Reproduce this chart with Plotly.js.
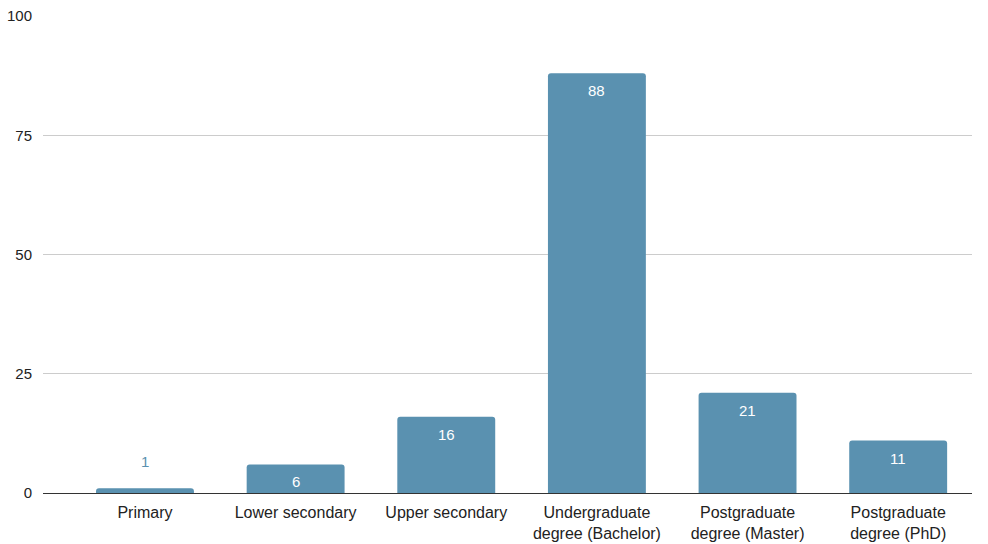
<!DOCTYPE html>
<html>
<head>
<meta charset="utf-8">
<script src="https://cdn.plot.ly/plotly-3.0.1.min.js"></script>
<style>html,body{margin:0;padding:0;background:#fff;}#chart{width:988px;height:544px;}</style>
</head>
<body>
<div id="chart"></div>
<script>
const categories = ["Primary", "Lower secondary", "Upper secondary", "Undergraduate<br>degree (Bachelor)", "Postgraduate<br>degree (Master)", "Postgraduate<br>degree (PhD)"];
const values = [1, 6, 16, 88, 21, 11];
const yTicks = [0, 25, 50, 75, 100];

const barColor = "#5a91b0";
const xs = categories.map((c, i) => i);

const annotations = values.map((v, i) => {
  const inside = v >= 5;
  return {
    x: i, y: v, xref: "x", yref: "y",
    text: String(v), showarrow: false,
    yanchor: inside ? "top" : "bottom",
    yshift: inside ? -7 : 16,
    font: {family: "Liberation Sans, Arial, sans-serif", size: 15, color: inside ? "#ffffff" : barColor}
  };
});

const trace = {
  type: "bar", x: xs, y: values,
  width: 0.65,
  marker: {color: barColor, cornerradius: 3},
  hoverinfo: "none"
};

const layout = {
  width: 988, height: 544,
  margin: {l: 43, r: 16, t: 16, b: 51},
  paper_bgcolor: "#fff", plot_bgcolor: "#fff",
  showlegend: false,
  font: {family: "Liberation Sans, Arial, sans-serif", size: 15, color: "#222"},
  xaxis: {
    range: [-0.677, 5.49], tickmode: "array", tickvals: xs, ticktext: categories,
    showgrid: false, zeroline: false, showline: false,
    ticks: "outside", ticklen: 5, tickcolor: "rgba(0,0,0,0)",
    tickfont: {size: 16, color: "#222"}, fixedrange: true
  },
  yaxis: {
    range: [0, 100], tickmode: "array", tickvals: yTicks,
    showgrid: true, gridcolor: "#cccccc", gridwidth: 1,
    zeroline: true, zerolinecolor: "#333333", zerolinewidth: 1,
    showline: false, ticks: "outside", ticklen: 7, tickcolor: "rgba(0,0,0,0)",
    tickfont: {size: 15, color: "#222"}, fixedrange: true
  },
  annotations: annotations
};

Plotly.newPlot("chart", [trace], layout, {displayModeBar: false, staticPlot: true});
</script>
</body>
</html>
